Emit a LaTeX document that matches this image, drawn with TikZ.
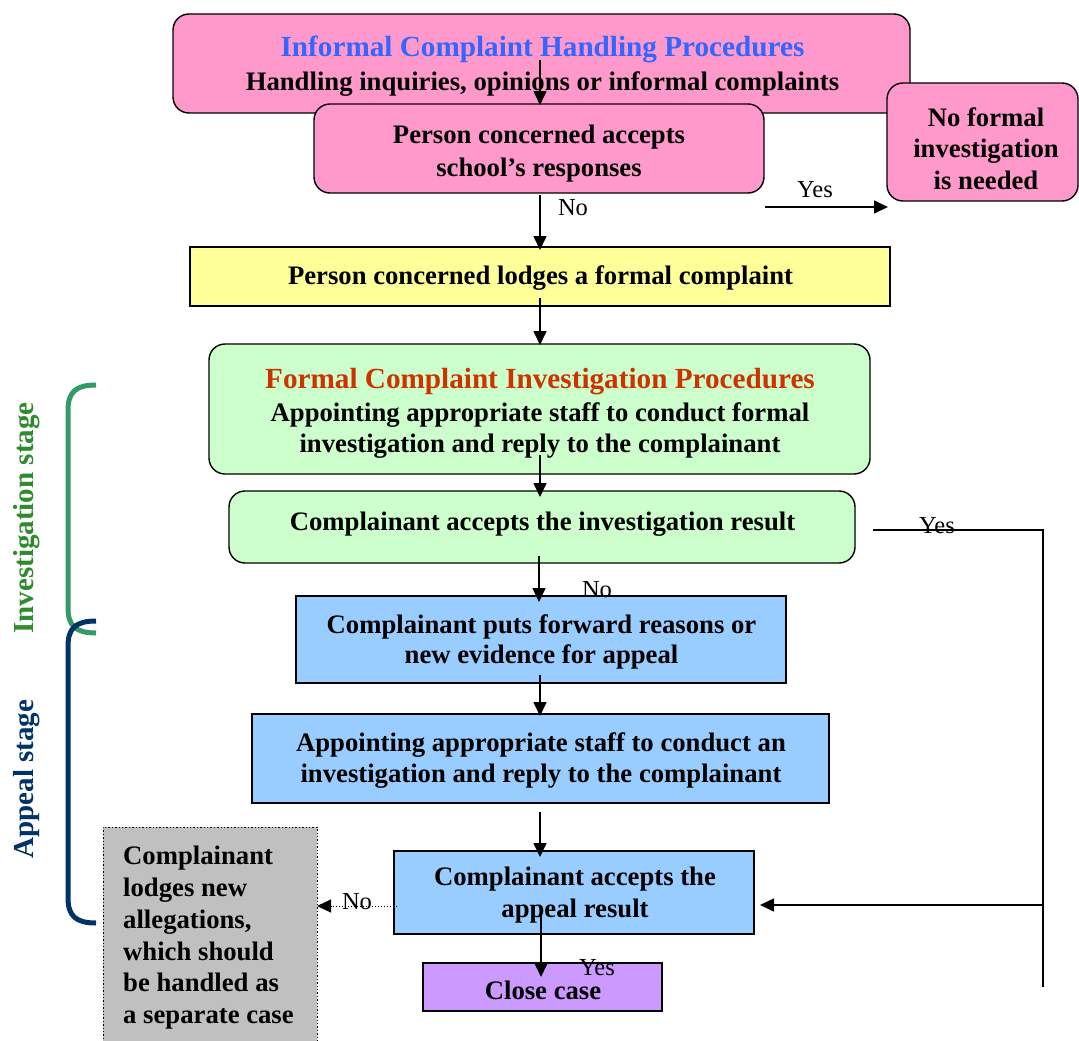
\documentclass[tikz,border=0pt]{standalone}
\usepackage{fontspec}
\setmainfont{Liberation Serif}
\usetikzlibrary{arrows.meta}
\definecolor{pinkc}{HTML}{FF99CC}
\definecolor{yellowc}{HTML}{FFFF99}
\definecolor{greenc}{HTML}{CCFFCC}
\definecolor{bluec}{HTML}{99CCFF}
\definecolor{purplec}{HTML}{CC99FF}
\definecolor{grayc}{HTML}{C0C0C0}
\definecolor{titleblue}{HTML}{3366FF}
\definecolor{titlered}{HTML}{CC3300}
\definecolor{bracegreen}{HTML}{339966}
\definecolor{bracenavy}{HTML}{003366}
\definecolor{labgreen}{HTML}{2E8B2E}
\newcommand{\ttl}[1]{{\fontsize{29.2}{31.5}\selectfont #1}}
\begin{document}
\begin{tikzpicture}[x=1pt,y=-1pt]
\tikzset{
  box/.style={draw, line width=1.4pt, inner sep=0pt},
  rbox/.style={box, rounded corners=16pt},
  txt/.style={inner sep=0pt, anchor=north, align=center,
    font=\bfseries\fontsize{26.7}{31.5}\selectfont,
    execute at begin node={\rule{0pt}{22pt}}},
  arr/.style={line width=1.6pt, -{Triangle[length=14pt,width=13pt]}},
  plain/.style={line width=1.6pt},
  lab/.style={inner sep=0pt, anchor=base, font=\fontsize{24.5}{28}\selectfont},
  stagelab/.style={inner sep=0pt, rotate=90, font=\bfseries\fontsize{29}{32}\selectfont},
  brace/.style={line width=5pt}
}
\useasboundingbox (0,0) rectangle (1079,1041);
\fill[white] (0,0) rectangle (1079,1041);

% boxes
\node[rbox, fill=pinkc, minimum width=737pt, minimum height=99pt] (inf) at (541.5,63.5) {};
\node[txt] (inftxt) at (542.5,36)
  {\ttl{\textcolor{titleblue}{Informal Complaint Handling Procedures}}\\[2.5pt]
   Handling inquiries, opinions or informal complaints};
\node[rbox, fill=pinkc, minimum width=450pt, minimum height=89pt] (acc) at (539,148.5) {};
\node[txt] (acctxt) at (539,125) {Person concerned accepts\\[1pt]school’s responses};
\node[rbox, fill=pinkc, minimum width=191pt, minimum height=118pt] (nof) at (982.5,142) {};
\node[txt] (noftxt) at (986,107) {No formal\\investigation\\is needed};
\node[box, fill=yellowc, minimum width=700pt, minimum height=59pt] (lodge) at (540,276.5) {};
\node[txt] (lodgetxt) at (540.5,262) {Person concerned lodges a formal complaint};
\node[rbox, fill=greenc, minimum width=661pt, minimum height=130pt] (formal) at (539.5,409) {};
\node[txt] (formaltxt) at (540,368)
  {\ttl{\textcolor{titlered}{Formal Complaint Investigation Procedures}}\\[1.5pt]
   Appointing appropriate staff to conduct formal\\
   investigation and reply to the complainant};
\node[rbox, fill=greenc, minimum width=626pt, minimum height=72pt] (invres) at (542,527) {};
\node[txt] (invrestxt) at (542.5,508) {Complainant accepts the investigation result};
\node[box, fill=bluec, minimum width=490pt, minimum height=87pt] (reasons) at (541,639.5) {};
\node[txt] (reasonstxt) at (541.5,614) {Complainant puts forward reasons or\\[-1pt]new evidence for appeal};
\node[box, fill=bluec, minimum width=577pt, minimum height=89pt] (appoint) at (540.5,758.5) {};
\node[txt] (appointtxt) at (541,732) {Appointing appropriate staff to conduct an\\investigation and reply to the complainant};
\node[box, fill=bluec, minimum width=360pt, minimum height=83pt] (appres) at (574,892.5) {};
\node[txt] (apprestxt) at (575,867) {Complainant accepts the\\[0.5pt]appeal result};
\node[box, fill=purplec, minimum width=239pt, minimum height=48pt] (close) at (542.5,987) {};
\node[txt] (closetxt) at (543,977) {Close case};
\node[box, fill=grayc, dotted, line width=1pt, minimum width=214pt, minimum height=218pt] (newalleg) at (210,936) {};
\node[txt, anchor=north west, align=left, font=\bfseries\fontsize{26.7}{31.8}\selectfont] (newallegtxt) at (123,846)
  {Complainant\\lodges new\\allegations,\\which should\\be handled as\\a separate case};

% coordinates
\coordinate (c1) at (540,60);
\coordinate (c1e) at (540,105);
\coordinate (c2) at (540,195);
\coordinate (c2e) at (540,250);
\coordinate (c3) at (765,207);
\coordinate (c3e) at (888,207);
\coordinate (c4) at (540,298);
\coordinate (c4e) at (540,345);
\coordinate (c5) at (540,455);
\coordinate (c5e) at (540,497);
\coordinate (c6) at (539,556);
\coordinate (c6e) at (539,602);
\coordinate (c7) at (540,675);
\coordinate (c7e) at (540,716);
\coordinate (c8) at (540,812);
\coordinate (c8e) at (540,857);
\coordinate (c9) at (541,915);
\coordinate (c9e) at (541,977);
\coordinate (y1) at (873,530);
\coordinate (y2) at (1043,530);
\coordinate (y3) at (1043,987);
\coordinate (y4) at (1043,905);
\coordinate (y4e) at (760,905);
\coordinate (n1) at (397,906);
\coordinate (n1e) at (317,906);

% connectors
\draw[arr] (c1) -- (c1e);
\draw[arr] (c2) -- (c2e);
\draw[arr] (c3) -- (c3e);
\draw[arr] (c4) -- (c4e);
\draw[arr] (c5) -- (c5e);
\draw[arr] (c6) -- (c6e);
\draw[arr] (c7) -- (c7e);
\draw[arr] (c8) -- (c8e);
\draw[arr] (c9) -- (c9e);
\draw[plain] (y1) -- (y2) -- (y3);
\draw[arr] (y4) -- (y4e);
\draw[line width=1pt, dotted, -{Triangle[length=14pt,width=13pt]}] (n1) -- (n1e);

% labels
\node[lab] (lyes1) at (815,197) {Yes};
\node[lab] (lno1) at (573,215) {No};
\node[lab] (lyes2) at (937,533) {Yes};
\node[lab] (lno2) at (597,597) {No};
\node[lab] (lno3) at (357,909) {No};
\node[lab] (lyes3) at (597,975) {Yes};

% braces
\draw[brace, bracegreen] (96,385) .. controls (76,385) and (68,392) .. (68,410)
  -- (68,608) .. controls (68,626) and (76,633) .. (96,633);
\draw[brace, bracenavy] (96,621) .. controls (76,621) and (68,628) .. (68,646)
  -- (68,898) .. controls (68,916) and (76,923) .. (96,923);

\node[stagelab, text=labgreen] (invlab) at (27,518) {Investigation stage};
\node[stagelab, text=bracenavy] (applab) at (27,779) {Appeal stage};
\end{tikzpicture}
\end{document}
